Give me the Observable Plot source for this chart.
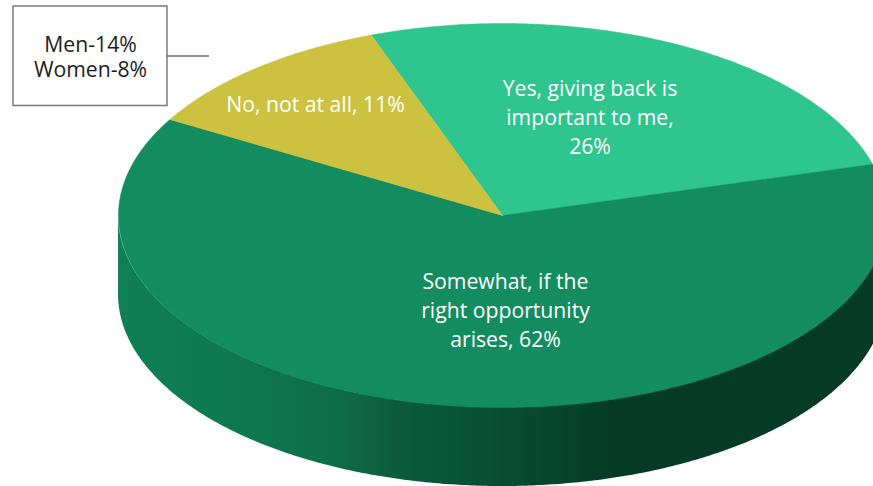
<!DOCTYPE html>
<html>
<head>
<meta charset="utf-8">
<script src="https://cdn.jsdelivr.net/npm/d3@7"></script>
<script src="https://cdn.jsdelivr.net/npm/@observablehq/plot@0.6"></script>
<style>
  html, body { margin: 0; padding: 0; background: #fff; overflow: hidden; }
  svg { display: block; }
</style>
</head>
<body>
<div id="chart"></div>
<script>
// Survey answers, drawn clockwise from the first slice
const answers = ["Yes, giving back is\nimportant to me,", "Somewhat, if the\nright opportunity\narises,", "No, not at all,"];
const shares = [26, 62, 11];
const sliceColors = ["#2ec58f", "#138c5f", "#ccc240"];
const calloutLines = "Men-14%\nWomen-8%";

// Pie geometry, in the pixel units of the x and y scales
const W = 873, H = 486;
const pie = {cx: 502, cy: 215, rx: 384, ry: 192, depth: 79, startDeg: -20};
const labelAt = [[589.5, 115], [505, 308], [315, 102]];
const box = {x1: 13, x2: 167, y1: 6, y2: 105.5};
const leader = {x1: 167, x2: 209, y: 55.5};
const calloutAt = {x: 90, y: 55.5};

const rim = deg => {
  const a = deg * Math.PI / 180;
  return {x: pie.cx + pie.rx * Math.sin(a), y: pie.cy - pie.ry * Math.cos(a)};
};

// One closed outline per slice, swept from the shares
const total = d3.sum(shares);
let sweep = pie.startDeg;
const outlines = shares.flatMap((share, i) => {
  const from = sweep, to = sweep + share / total * 360;
  sweep = to;
  const steps = Math.ceil(to - from) * 2;
  const arc = d3.range(steps + 1).map(k => rim(from + (to - from) * k / steps));
  return [{x: pie.cx, y: pie.cy}, ...arc, {x: pie.cx, y: pie.cy}].map(p => ({...p, slice: i, fill: sliceColors[i]}));
});

// The visible side wall under the front half of the rim
const wall = d3.range(90, 270.5, 0.5).map(deg => {
  const p = rim(deg);
  return {x: p.x, y1: p.y, y2: p.y + pie.depth};
});

// Horizontal shading of the wall
const wallStops = [[118, "#107f55"], [250, "#0f7750"], [330, "#0e6d49"], [400, "#0b5b3c"], [520, "#074a30"], [620, "#053a26"], [873, "#053a26"]];
const wallGradient = () => {
  const svgNS = "http://www.w3.org/2000/svg";
  const defs = document.createElementNS(svgNS, "defs");
  const grad = document.createElementNS(svgNS, "linearGradient");
  grad.setAttribute("id", "wall-shade");
  grad.setAttribute("gradientUnits", "userSpaceOnUse");
  grad.setAttribute("x1", 118); grad.setAttribute("x2", 873);
  grad.setAttribute("y1", 0); grad.setAttribute("y2", 0);
  for (const [x, color] of wallStops) {
    const stop = document.createElementNS(svgNS, "stop");
    stop.setAttribute("offset", (x - 118) / (873 - 118));
    stop.setAttribute("stop-color", color);
    grad.appendChild(stop);
  }
  defs.appendChild(grad);
  return defs;
};

const labels = answers.map((name, i) => ({
  text: `${name}${name.endsWith("me,") ? "\n" : " "}${shares[i]}%`,
  x: labelAt[i][0], y: labelAt[i][1]
}));

const chart = Plot.plot({
  width: W, height: H,
  margin: 0,
  x: {domain: [0, W], range: [0, W], axis: null},
  y: {domain: [0, H], range: [0, H], axis: null},
  style: {background: "#fff", fontFamily: "'Open Sans', sans-serif"},
  marks: [
    wallGradient,
    Plot.areaY(wall, {x: "x", y1: "y1", y2: "y2", fill: "url(#wall-shade)"}),
    Plot.line(outlines, {x: "x", y: "y", z: "slice", fill: "fill", stroke: "fill", strokeWidth: 0.5}),
    Plot.text(labels, {x: "x", y: "y", text: "text", fill: "#fff", fontSize: 21.2, lineHeight: 1.37}),
    Plot.rect([box], {x1: "x1", x2: "x2", y1: "y1", y2: "y2", fill: "#fff", stroke: "#777b80", strokeWidth: 1.5}),
    Plot.ruleY([leader], {x1: "x1", x2: "x2", y: "y", stroke: "#6a6e73", strokeWidth: 1.5}),
    Plot.text([calloutAt], {x: "x", y: "y", text: () => calloutLines, fill: "#1c1c1c", fontSize: 21.2, lineHeight: 1.18})
  ]
});
document.getElementById("chart").appendChild(chart);
</script>
</body>
</html>
